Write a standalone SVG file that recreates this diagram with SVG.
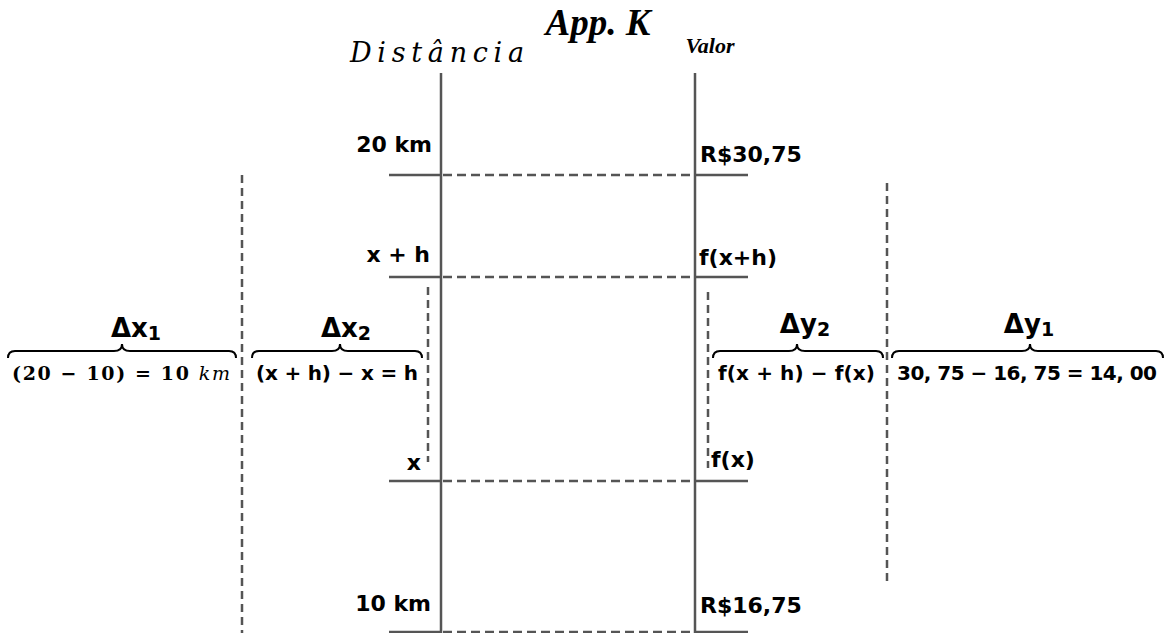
<svg xmlns="http://www.w3.org/2000/svg" width="1170" height="633" viewBox="0 0 1170 633">
<style>
.axis{stroke:#555;stroke-width:2.5;fill:none}
.tick{stroke:#555;stroke-width:2.5;fill:none}
.hdash{stroke:#555;stroke-width:2.5;stroke-dasharray:9 5;fill:none}
.vdash{stroke:#555;stroke-width:2.5;stroke-dasharray:8 5;fill:none}
.brace{stroke:#000;stroke-width:2;fill:none}
.lbl{font-family:"DejaVu Sans",sans-serif;font-weight:bold;font-size:22px;fill:#000}
.delta{font-family:"DejaVu Sans",sans-serif;font-weight:bold;font-size:26px;fill:#000}
.sub{font-size:19px}
.msans{font-family:"DejaVu Sans",sans-serif;font-weight:bold;font-size:20px;fill:#000}
.mserif{font-family:"DejaVu Serif",serif;font-weight:bold;font-size:19px;fill:#000}
</style>
<rect width="1170" height="633" fill="#fff"/>
<g id="title"><text x="598" y="35" text-anchor="middle" font-family="Liberation Serif,serif" font-weight="bold" font-style="italic" font-size="37">App. K</text></g>
<g id="distancia-axis">
<text x="350" y="62" font-family="DejaVu Serif,serif" font-style="italic" font-size="27" textLength="174" lengthAdjust="spacing">Distância</text>
<line class="axis" x1="441" y1="73" x2="441" y2="633"/>
</g>
<g id="valor-axis">
<text x="710" y="53" text-anchor="middle" font-family="Liberation Serif,serif" font-weight="bold" font-style="italic" font-size="22">Valor</text>
<line class="axis" x1="695" y1="73" x2="695" y2="633"/>
</g>
<g id="connectors">
<line class="tick" x1="389" y1="175" x2="441" y2="175"/>
<line class="hdash" x1="443" y1="175" x2="693" y2="175"/>
<line class="tick" x1="695" y1="175" x2="748" y2="175"/>
<line class="tick" x1="389" y1="277" x2="441" y2="277"/>
<line class="hdash" x1="443" y1="277" x2="693" y2="277"/>
<line class="tick" x1="695" y1="277" x2="748" y2="277"/>
<line class="tick" x1="389" y1="481" x2="441" y2="481"/>
<line class="hdash" x1="443" y1="481" x2="693" y2="481"/>
<line class="tick" x1="695" y1="481" x2="748" y2="481"/>
<line class="tick" x1="389" y1="632" x2="441" y2="632"/>
<line class="hdash" x1="443" y1="632" x2="693" y2="632"/>
<line class="tick" x1="695" y1="632" x2="748" y2="632"/>
<line class="vdash" x1="242" y1="175" x2="242" y2="633"/>
<line class="vdash" x1="428" y1="287" x2="428" y2="462"/>
<line class="vdash" x1="708" y1="292" x2="708" y2="468"/>
<line class="vdash" x1="887" y1="183" x2="887" y2="586"/>
</g>
<g id="left-labels">
<text class="lbl" x="432" y="152" text-anchor="end">20 km</text>
<text class="lbl" x="430" y="262" text-anchor="end">x + h</text>
<text class="lbl" x="421" y="470" text-anchor="end">x</text>
<text class="lbl" x="431" y="611" text-anchor="end">10 km</text>
</g>
<g id="right-labels">
<text class="lbl" x="700" y="162">R$30,75</text>
<text class="lbl" x="699" y="265">f(x+h)</text>
<text class="lbl" x="711" y="467">f(x)</text>
<text class="lbl" x="700" y="613">R$16,75</text>
</g>
<g id="dx1">
<text class="delta" x="136" y="337" text-anchor="middle">Δx<tspan class="sub" dy="3">1</tspan></text>
<path class="brace" d="M8,358 Q8,351 15,351 L114,351 Q122,351 122,344 Q122,351 130,351 L229,351 Q236,351 236,358"/>
<text class="mserif" x="12" y="380" textLength="218" lengthAdjust="spacing">(20 − 10) = 10 <tspan font-style="italic" font-weight="normal">km</tspan></text>
</g>
<g id="dx2">
<text class="delta" x="346" y="337" text-anchor="middle">Δx<tspan class="sub" dy="3">2</tspan></text>
<path class="brace" d="M252,358 Q252,351 259,351 L332,351 Q340,351 340,344 Q340,351 348,351 L415,351 Q422,351 422,358"/>
<text class="msans" x="256" y="380" textLength="162" lengthAdjust="spacing">(x + h) − x = h</text>
</g>
<g id="dy2">
<text class="delta" x="805" y="333" text-anchor="middle">Δy<tspan class="sub" dy="3">2</tspan></text>
<path class="brace" d="M713,358 Q713,351 720,351 L789,351 Q797,351 797,344 Q797,351 805,351 L876,351 Q883,351 883,358"/>
<text class="msans" x="718" y="380" textLength="157" lengthAdjust="spacing">f(x + h) − f(x)</text>
</g>
<g id="dy1">
<text class="delta" x="1029" y="333" text-anchor="middle">Δy<tspan class="sub" dy="3">1</tspan></text>
<path class="brace" d="M892,358 Q892,351 899,351 L1022,351 Q1030,351 1030,344 Q1030,351 1038,351 L1156,351 Q1163,351 1163,358"/>
<text class="msans" x="897" y="380" textLength="260" lengthAdjust="spacing">30, 75 − 16, 75 = 14, 00</text>
</g>
</svg>
